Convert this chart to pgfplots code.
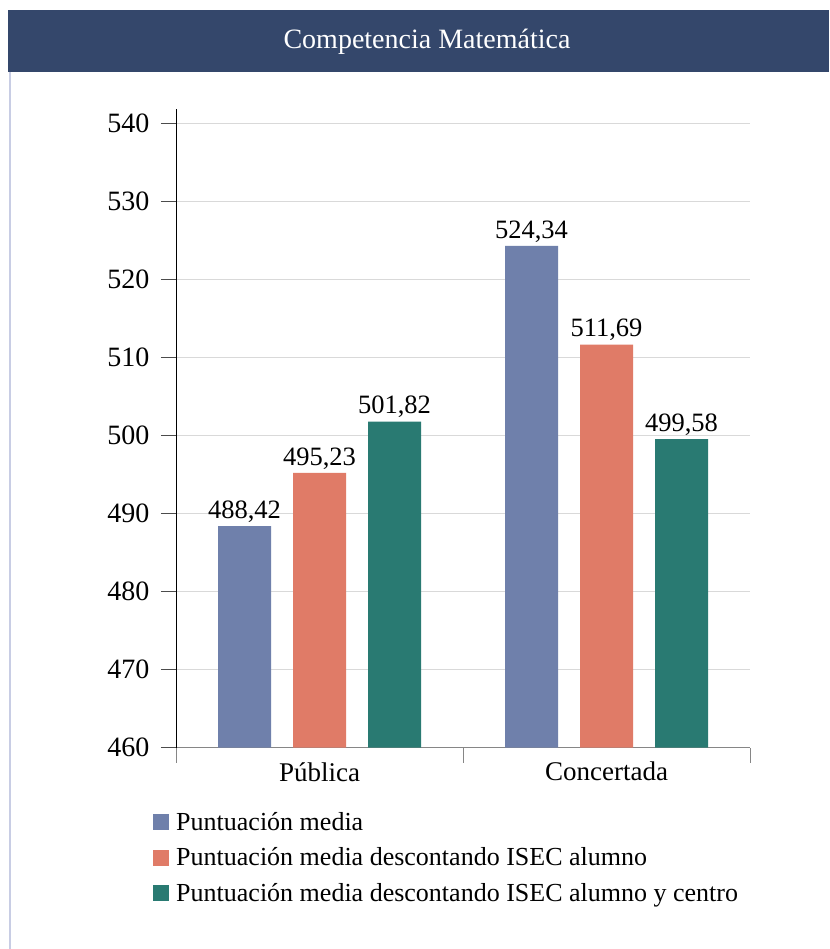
\documentclass[border=0pt]{standalone}
\usepackage{fontspec}
\setmainfont{Liberation Serif}
\usepackage{pgfplots}
\pgfplotsset{compat=1.18}
\definecolor{banner}{RGB}{52,71,107}
\definecolor{cblue}{RGB}{111,128,171}
\definecolor{csalmon}{RGB}{224,123,103}
\definecolor{cteal}{RGB}{41,122,114}
\definecolor{borderc}{RGB}{200,205,228}
\definecolor{gridc}{RGB}{217,217,217}
\definecolor{axisc}{RGB}{134,134,134}
\begin{document}
\begin{tikzpicture}[x=1pt,y=1pt]
\path[use as bounding box] (0,0) rectangle (829,949);
\fill[white] (0,0) rectangle (829,949);
\fill[banner] (8,877) rectangle (829,939);
\draw[borderc, line width=2pt] (9.5,0) -- (9.5,877);
\node[text=white, font=\fontsize{28}{32}\selectfont] at (427,907) {Competencia Matemática};
\begin{axis}[
  at={(176pt,201.3pt)}, anchor=south west,
  scale only axis, width=574pt, height=638.7pt,
  xmin=-0.5, xmax=1.5, ymin=460, ymax=541.9,
  axis x line*=bottom, axis y line*=left,
  x axis line style={draw=axisc, line width=1pt},
  y axis line style={draw=black, line width=1pt},
  ybar=22pt, bar width=53pt,
  xtick={-0.5,0.5,1.5}, xticklabels={},
  x tick style={draw=axisc, line width=1pt},
  extra x ticks={0,1}, extra x tick labels={Pública,Concertada},
  extra x tick style={grid=none, major tick length=0pt},
  ytick={460,470,...,540},
  y tick style={draw=black!70, line width=1pt},
  tick align=outside, major tick length=15pt,
  ymajorgrids, grid style={draw=gridc, line width=0.8pt},
  ticklabel style={font=\fontsize{28}{32}\selectfont},
  xticklabel style={yshift=-11pt, font=\fontsize{27}{30}\selectfont},
  yticklabel style={xshift=-8pt},
  /pgf/number format/assume math mode=true,
  nodes near coords,
  every node near coord/.append style={font=\fontsize{26.5}{30}\selectfont, text=black},
  nodes near coords style={/pgf/number format/.cd, fixed, fixed zerofill, precision=2, use comma, 1000 sep={}},
  legend cell align=left,
  legend style={draw=none, fill=none, at={(axis description cs:-0.040,-0.098)}, anchor=north west,
    font=\fontsize{26}{30}\selectfont, inner sep=0pt, row sep=9.5pt,
    nodes={text height=20pt, text depth=6pt, inner ysep=0pt, inner xsep=0pt},
    /tikz/every odd column/.append style={column sep=7pt}},
  legend image code/.code={\fill[#1,draw=none] (0pt,-7pt) rectangle (16pt,9pt);},
]
\addplot[fill=cblue, draw=none] coordinates {(0,488.42) (1,524.34)};
\addplot[fill=csalmon, draw=none] coordinates {(0,495.23) (1,511.69)};
\addplot[fill=cteal, draw=none] coordinates {(0,501.82) (1,499.58)};
\legend{Puntuación media, Puntuación media descontando ISEC alumno, Puntuación media descontando ISEC alumno y centro}
\end{axis}
\end{tikzpicture}
\end{document}
